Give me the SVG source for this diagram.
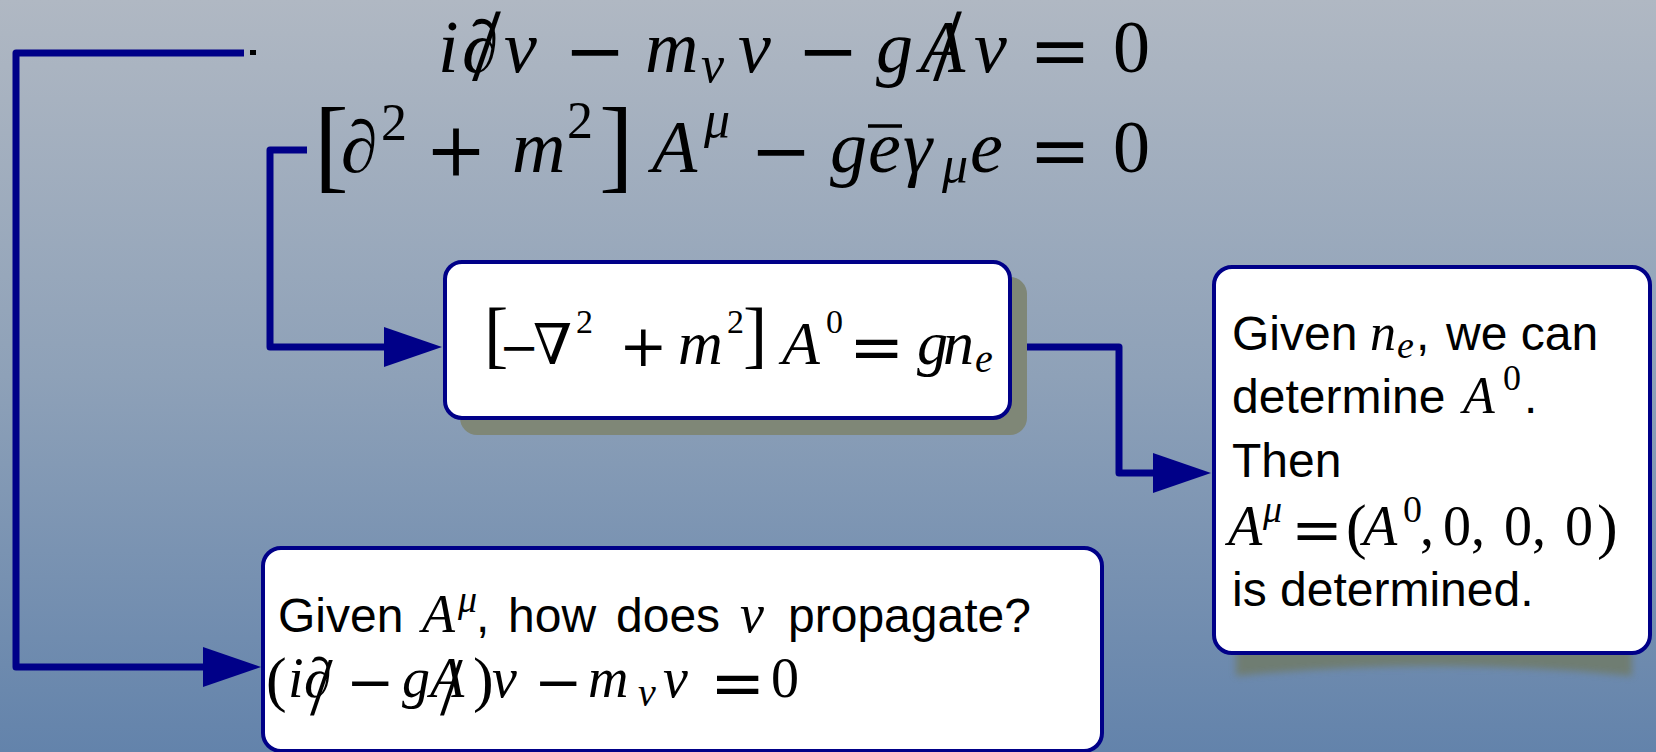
<svg xmlns="http://www.w3.org/2000/svg" width="1656" height="752" viewBox="0 0 1656 752">
<defs>
<linearGradient id="bgGrad" x1="0" y1="0" x2="0" y2="1">
<stop offset="0" stop-color="#b0b8c3"/>
<stop offset="0.5" stop-color="#8ea1b8"/>
<stop offset="1" stop-color="#6383ab"/>
</linearGradient>
<marker id="arr" viewBox="0 0 58 40" refX="10" refY="20" markerWidth="58" markerHeight="40" markerUnits="userSpaceOnUse" orient="auto">
<path d="M0,0 L58,20 L0,40 Z" fill="#000088"/>
</marker>
<filter id="blur" x="-10%" y="-100%" width="120%" height="300%">
<feGaussianBlur stdDeviation="3.5"/>
</filter>
<style>
.mi { font-family: "Liberation Serif", "DejaVu Serif", serif; font-style: italic; fill: #000; }
.mr { font-family: "Liberation Serif", "DejaVu Serif", serif; font-style: normal; fill: #000; }
.op { font-family: "DejaVu Serif", "Liberation Serif", serif; font-style: normal; fill: #000; }
.sf { font-family: "Liberation Sans", "DejaVu Sans", sans-serif; fill: #000; }
.conn { fill: none; stroke: #000088; stroke-width: 7; stroke-linejoin: round; marker-end: url(#arr); }
.box { fill: #ffffff; stroke: #000088; stroke-width: 4; }
.shadow { fill: #7f8777; }
</style>
</defs>

<rect id="background" x="0" y="0" width="1656" height="752" fill="url(#bgGrad)"/>

<g id="connectors">
<path class="conn" d="M244,53 H16 V667 H213"/>
<path class="conn" d="M307,150 H270 V347 H394"/>
<path class="conn" d="M1027,347 H1119 V473 H1163"/>
<rect x="250" y="50" width="6" height="5" fill="#000"/>
</g>

<g id="node-dirac">
<text font-size="74">
<tspan class="mi" x="438" y="72">i</tspan>
<tspan class="mi" x="462" y="72">∂</tspan>
<tspan class="mr" x="472" y="80" font-size="104">/</tspan>
<tspan class="mi" x="504" y="72">ν</tspan>
<tspan class="op" x="564" y="76">−</tspan>
<tspan class="mi" x="645" y="72">m</tspan>
<tspan class="mi" x="701" y="82" font-size="52">ν</tspan>
<tspan class="mi" x="738" y="72">ν</tspan>
<tspan class="op" x="797" y="76">−</tspan>
<tspan class="mi" x="876" y="72">g</tspan>
<tspan class="mi" x="920" y="72">A</tspan>
<tspan class="mr" x="933" y="80" font-size="104">/</tspan>
<tspan class="mi" x="974" y="72">ν</tspan>
<tspan class="op" x="1029" y="76">=</tspan>
<tspan class="mr" x="1113" y="72">0</tspan>
</text>
</g>

<g id="node-proca">
<text font-size="74">
<tspan class="mr" x="314" y="179" font-size="104">[</tspan>
<tspan class="mi" x="341" y="172">∂</tspan>
<tspan class="mr" x="381" y="140" font-size="52">2</tspan>
<tspan class="op" x="425" y="176">+</tspan>
<tspan class="mi" x="512" y="172">m</tspan>
<tspan class="mr" x="567" y="138" font-size="52">2</tspan>
<tspan class="mr" x="599" y="179" font-size="104">]</tspan>
<tspan class="mi" x="652" y="172">A</tspan>
<tspan class="mi" x="704" y="137" font-size="52">μ</tspan>
<tspan class="op" x="750" y="176">−</tspan>
<tspan class="mi" x="830" y="172">g</tspan>
<tspan class="mi" x="868" y="172">e</tspan>
<tspan class="mi" x="903" y="172">γ</tspan>
<tspan class="mi" x="942" y="182" font-size="52">μ</tspan>
<tspan class="mi" x="970" y="172">e</tspan>
<tspan class="op" x="1029" y="176">=</tspan>
<tspan class="mr" x="1113" y="172">0</tspan>
</text>
<line x1="868" y1="126" x2="902" y2="126" stroke="#000" stroke-width="3.5"/>
</g>

<g id="node-poisson">
<rect class="shadow" x="460" y="277" width="567" height="158" rx="17"/>
<rect class="box" x="445" y="262" width="565" height="156" rx="17"/>
<text font-size="62">
<tspan class="mr" x="484" y="359" font-size="73">[</tspan>
<tspan class="op" x="499" y="364" font-size="48">−</tspan>
<tspan class="op" x="533" y="364" font-size="56">∇</tspan>
<tspan class="mr" x="576" y="333" font-size="34">2</tspan>
<tspan class="op" x="619" y="366" font-size="58">+</tspan>
<tspan class="mi" x="678" y="364">m</tspan>
<tspan class="mr" x="727" y="333" font-size="34">2</tspan>
<tspan class="mr" x="743" y="359" font-size="73">]</tspan>
<tspan class="mi" x="782" y="364">A</tspan>
<tspan class="mr" x="826" y="333" font-size="34">0</tspan>
<tspan class="op" x="849" y="369" font-size="66">=</tspan>
<tspan class="mi" x="917" y="364">g</tspan>
<tspan class="mi" x="943" y="364">n</tspan>
<tspan class="mi" x="975" y="372" font-size="40">e</tspan>
</text>
</g>

<g id="node-given-ne">
<path d="M1236,648 H1632 V676 Q1434,656 1236,676 Z" fill="#6f7b6c" filter="url(#blur)" opacity="0.9"/>
<rect class="box" x="1214" y="267" width="436" height="386" rx="18"/>
<text font-size="48">
<tspan class="sf" x="1232" y="350">Given</tspan>
<tspan class="mi" x="1370" y="350" font-size="52">n</tspan>
<tspan class="mi" x="1397" y="358" font-size="38">e</tspan>
<tspan class="sf" x="1416" y="350">,</tspan>
<tspan class="sf" x="1446" y="350">we can</tspan>
<tspan class="sf" x="1232" y="413">determine</tspan>
<tspan class="mi" x="1463" y="413" font-size="52">A</tspan>
<tspan class="mr" x="1503" y="390" font-size="36">0</tspan>
<tspan class="sf" x="1524" y="413">.</tspan>
<tspan class="sf" x="1232" y="477">Then</tspan>
<tspan class="mi" x="1228" y="545" font-size="56">A</tspan>
<tspan class="mi" x="1263" y="522" font-size="38">μ</tspan>
<tspan class="op" x="1291" y="551" font-size="62">=</tspan>
<tspan class="mr" x="1346" y="547" font-size="62">(</tspan>
<tspan class="mi" x="1363" y="545" font-size="56">A</tspan>
<tspan class="mr" x="1403" y="522" font-size="38">0</tspan>
<tspan class="mr" x="1420" y="545" font-size="56">,</tspan>
<tspan class="mr" x="1443" y="545" font-size="56">0</tspan>
<tspan class="mr" x="1471" y="545" font-size="56">,</tspan>
<tspan class="mr" x="1504" y="545" font-size="56">0</tspan>
<tspan class="mr" x="1532" y="545" font-size="56">,</tspan>
<tspan class="mr" x="1565" y="545" font-size="56">0</tspan>
<tspan class="mr" x="1597" y="547" font-size="62">)</tspan>
<tspan class="sf" x="1232" y="606">is determined.</tspan>
</text>
</g>

<g id="node-given-A">
<rect class="box" x="263" y="548" width="839" height="203" rx="18"/>
<text font-size="48">
<tspan class="sf" x="278" y="632">Given</tspan>
<tspan class="mi" x="422" y="632" font-size="54">A</tspan>
<tspan class="mi" x="458" y="612" font-size="38">μ</tspan>
<tspan class="sf" x="476" y="632">,</tspan>
<tspan class="sf" x="508" y="632">how</tspan>
<tspan class="sf" x="616" y="632">does</tspan>
<tspan class="mi" x="740" y="632" font-size="54">ν</tspan>
<tspan class="sf" x="788" y="632">propagate?</tspan>
</text>
<text font-size="56">
<tspan class="mr" x="266" y="700" font-size="62">(</tspan>
<tspan class="mi" x="288" y="697">i</tspan>
<tspan class="mi" x="304" y="697">∂</tspan>
<tspan class="mr" x="310" y="714" font-size="82">/</tspan>
<tspan class="op" x="346" y="702" font-size="58">−</tspan>
<tspan class="mi" x="402" y="697">g</tspan>
<tspan class="mi" x="430" y="697">A</tspan>
<tspan class="mr" x="440" y="714" font-size="82">/</tspan>
<tspan class="mr" x="473" y="700" font-size="62">)</tspan>
<tspan class="mi" x="492" y="697">ν</tspan>
<tspan class="op" x="534" y="702" font-size="58">−</tspan>
<tspan class="mi" x="588" y="697">m</tspan>
<tspan class="mi" x="638" y="706" font-size="40">ν</tspan>
<tspan class="mi" x="663" y="697">ν</tspan>
<tspan class="op" x="710" y="705" font-size="66">=</tspan>
<tspan class="mr" x="771" y="697">0</tspan>
</text>
</g>
</svg>
